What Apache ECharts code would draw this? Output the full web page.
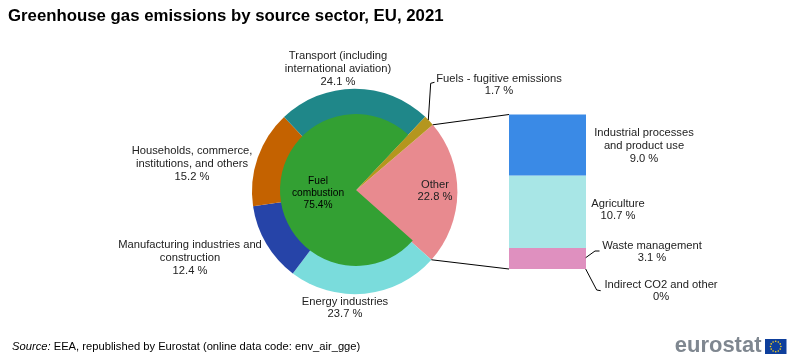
<!DOCTYPE html>
<html lang="en">
<head>
    <meta charset="UTF-8">
    <title>Greenhouse gas emissions by source sector, EU, 2021</title>
    <script src="https://cdn.jsdelivr.net/npm/echarts@6/dist/echarts.min.js"></script>
    <style>
        html, body { margin: 0; padding: 0; background: #fff; }
    </style>
</head>
<body>
    <div id="main" style="width: 800px;height:356px;"></div>
    <script>
        // clockwise from the top of the "Other" wedge
        var ringNames = ['Other', 'Energy industries', 'Manufacturing industries and\nconstruction', 'Households, commerce,\ninstitutions, and others', 'Transport (including\ninternational aviation)', 'Fuels - fugitive emissions'];
        var ringValues = [22.8, 23.7, 12.4, 15.2, 24.1, 1.7];
        var ringColors = ['#e88a8f', '#7adcdc', '#2644a8', '#c46200', '#1f8789', '#b4961e'];
        var ringLabelXY = [[435, 191], [345, 308], [190, 258], [192, 164], [338, 69], [499, 85]];

        var coreName = 'Fuel\ncombustion';
        var coreValues = [22.8, 75.4, 1.7];
        var coreLabelXY = [318, 193];

        // bottom to top in the stack
        var stackNames = ['Indirect CO2 and other', 'Waste management', 'Agriculture', 'Industrial processes\nand product use'];
        var stackValues = [0, 3.1, 10.7, 9.0];
        var stackTexts = ['0%', '3.1 %', '10.7 %', '9.0 %'];
        var stackColors = ['#f0c0a8', '#df90bf', '#a8e6e6', '#3a8ae6'];
        var stackLabelXY = [[661, 291], [652, 252], [618, 210], [644, 146]];

        var cx = 354.7, cy = 191.5, ringR = 102.7;
        var coreX = 356, coreY = 190, coreR = 76;
        var startAngle = 40.5;
        var stackLeft = 509, stackTop = 114.5, stackW = 77, stackH = 154.5;
        var otherShare = ringValues[0] / ringValues.reduce(function (a, b) { return a + b; }, 0);

        function edgePoint(deg) {
            var a = deg * Math.PI / 180;
            return [cx + ringR * Math.cos(a), cy - ringR * Math.sin(a)];
        }

        function line(points, width) {
            return {
                type: 'polyline',
                silent: true,
                z: 20,
                shape: { points: points },
                style: { stroke: '#000', lineWidth: width || 1, fill: null }
            };
        }

        var textFont = { fontFamily: 'Liberation Sans', fontSize: 11.2, lineHeight: 12.8, color: '#222' };

        var starDots = [];
        for (var i = 0; i < 12; i++) {
            var a = i * Math.PI / 6;
            starDots.push({
                type: 'circle',
                silent: true,
                shape: { cx: 775.7 + 5.2 * Math.cos(a), cy: 346.5 + 5.2 * Math.sin(a), r: 0.8 },
                style: { fill: '#ffd617' }
            });
        }

        var stackSeries = stackNames.map(function (name, i) {
            return {
                type: 'bar',
                name: name,
                stack: 'other',
                barWidth: '100%',
                barMinHeight: i === 0 ? 1 : 0,
                silent: true,
                animation: false,
                data: [stackValues[i]],
                itemStyle: { color: stackColors[i] },
                label: Object.assign({
                    show: true,
                    align: 'center',
                    formatter: name + '\n' + stackTexts[i]
                }, textFont),
                labelLayout: { x: stackLabelXY[i][0], y: stackLabelXY[i][1], align: 'center', verticalAlign: 'middle' }
            };
        });

        var option = {
            animation: false,
            title: {
                text: 'Greenhouse gas emissions by source sector, EU, 2021',
                left: 8,
                top: 8,
                padding: 0,
                textStyle: { fontFamily: 'Liberation Sans', fontSize: 16.8, fontWeight: 'bold', color: '#000' }
            },
            grid: { left: stackLeft, top: stackTop, width: stackW, height: stackH },
            xAxis: { type: 'category', show: false, data: ['Other'] },
            yAxis: { type: 'value', show: false, min: 0, max: ringValues[0] },
            series: [
                {
                    type: 'pie',
                    center: [cx, cy],
                    radius: [0, ringR],
                    startAngle: startAngle,
                    silent: true,
                    z: 2,
                    data: ringNames.map(function (name, i) {
                        return { name: name, value: ringValues[i], itemStyle: { color: ringColors[i] } };
                    }),
                    label: Object.assign({
                        show: true,
                        align: 'center',
                        formatter: function (p) { return p.name + '\n' + p.value.toFixed(1) + ' %'; }
                    }, textFont),
                    labelLine: { show: false },
                    labelLayout: function (p) {
                        var xy = ringLabelXY[p.dataIndex];
                        return { x: xy[0], y: xy[1], align: 'center', verticalAlign: 'middle', hideOverlap: false };
                    }
                },
                {
                    type: 'pie',
                    center: [coreX, coreY],
                    radius: [0, coreR],
                    startAngle: startAngle,
                    silent: true,
                    z: 3,
                    data: coreValues.map(function (v, i) {
                        return {
                            name: i === 1 ? coreName : '',
                            value: v,
                            itemStyle: { color: i === 1 ? '#33a033' : 'transparent' },
                            label: {
                                show: i === 1,
                                align: 'center',
                                formatter: '{b}\n' + v.toFixed(1) + '%',
                                fontFamily: 'Liberation Sans',
                                fontSize: 10.2,
                                lineHeight: 12,
                                color: '#000'
                            },
                            labelLine: { show: false }
                        };
                    }),
                    labelLayout: { x: coreLabelXY[0], y: coreLabelXY[1], align: 'center', verticalAlign: 'middle' }
                }
            ].concat(stackSeries),
            graphic: [
                line([edgePoint(startAngle), [stackLeft, stackTop]]),
                line([edgePoint(startAngle - otherShare * 360), [stackLeft, stackTop + stackH]]),
                line([[428.3, 120], [430.7, 83.3], [434.5, 82.3]]),
                line([[585.7, 257.7], [595, 251], [599.5, 251]]),
                line([[585.7, 269], [596.7, 290], [600.7, 290.7]]),
                {
                    type: 'text',
                    silent: true,
                    style: {
                        x: 12,
                        y: 347,
                        verticalAlign: 'middle',
                        text: '{i|Source:} EEA, republished by Eurostat (online data code: env_air_gge)',
                        rich: { i: { fontStyle: 'italic', fontFamily: 'Liberation Sans', fontSize: 11.2, fill: '#000' } },
                        fontFamily: 'Liberation Sans',
                        fontSize: 11.2,
                        fill: '#000'
                    }
                },
                {
                    type: 'text',
                    silent: true,
                    style: {
                        x: 761.5,
                        y: 346,
                        align: 'right',
                        verticalAlign: 'middle',
                        text: 'eurostat',
                        fontFamily: 'Liberation Sans',
                        fontWeight: 'bold',
                        fontSize: 22,
                        fill: '#7f8790'
                    }
                },
                {
                    type: 'rect',
                    silent: true,
                    shape: { x: 765, y: 339, width: 21.5, height: 15 },
                    style: { fill: '#0e3f9c' }
                }
            ].concat(starDots)
        };

        var myChart = echarts.init(document.getElementById('main'));
        myChart.setOption(option);
    </script>
</body>
</html>
